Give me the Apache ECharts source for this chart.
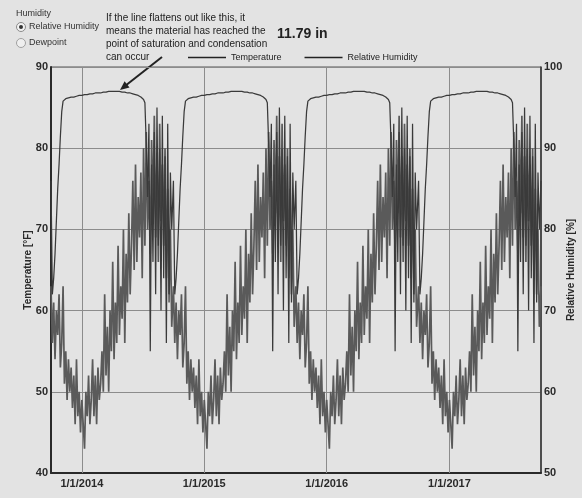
<!DOCTYPE html>
<html>
<head>
<meta charset="utf-8">
<script src="https://cdn.jsdelivr.net/npm/echarts@6/dist/echarts.min.js"></script>
<style>
  html, body { margin: 0; padding: 0; background: #e3e3e3; }
  #chart { width: 582px; height: 498px; }
</style>
</head>
<body>
<div id="chart"></div>
<script>
// Monitor position results, WUFI run of 4 years starting 1 Oct 2013.
// The climate file repeats every year, so one annual cycle of values
// (4-day steps, Oct 1 -> Sep 26) is laid out over each simulated year.

const startYear = 2013;
const simYears = 4;
const stepDays = 4;

// Temperature [°F], one value every 4 days from Oct 1
const tempYear = [
  63, 56, 61, 54, 60, 57, 62, 53,        // Oct
  56, 63, 51, 55, 49, 54, 50, 53,        // Nov
  48, 52, 46, 54, 47, 50, 45,            // Dec
  49, 46, 43, 50, 47, 52, 46, 49,        // Jan
  54, 47, 52, 46, 53, 49, 51,            // Feb
  55, 50, 62, 52, 58, 50, 60, 55,        // Mar
  66, 54, 61, 56, 68, 57, 63,            // Apr
  59, 70, 56, 67, 61, 72, 62, 68,        // May
  76, 65, 78, 66, 74, 69, 77, 64,        // Jun
  80, 68, 82, 70, 76, 67, 81,            // Jul
  72, 84, 69, 79, 66, 83, 71, 78,        // Aug
  68, 80, 64, 75, 62, 70, 58             // Sep
];

// Relative humidity [%], one value every 4 days from Oct 1
const rhYear = [
  86, 72, 74, 77, 81, 85, 88, 91.5,                    // Oct
  94.5, 95.8, 95.6, 96.1, 96.1, 96.2, 96.2, 96.3,      // Nov
  96.3, 96.3, 96.4, 96.4, 96.4, 96.5, 96.5,            // Dec
  96.5, 96.5, 96.6, 96.6, 96.6, 96.6, 96.7, 96.7,      // Jan
  96.7, 96.7, 96.8, 96.8, 96.8, 96.8, 96.8,            // Feb
  96.9, 96.9, 96.9, 96.9, 96.9, 97.0, 97.0, 97.0,      // Mar
  97.0, 97.0, 97.0, 97.0, 97.0, 97.0, 97.0,            // Apr
  96.9, 96.9, 96.9, 96.9, 96.8, 96.8, 96.8, 96.7,      // May
  96.7, 96.6, 96.6, 96.5, 96.5, 96.4, 96.3, 96.2,      // Jun
  96.0, 95.6, 90.5, 84, 93, 65, 88,                    // Jul
  76, 92, 72, 95, 78, 90, 70, 94,                      // Aug
  74, 89, 66, 93, 71, 87, 80                           // Sep
];

// x-axis labels: New Year of each simulated year
const yearTickDates = [[2014, 0, 1], [2015, 0, 1], [2016, 0, 1], [2017, 0, 1]];

const DAY = 86400000;
const xMin = Date.UTC(startYear, 9, 1);
const xMax = Date.UTC(startYear + simYears, 9, 1);
const yearTicks = yearTickDates.map(d => Date.UTC(d[0], d[1], d[2]));

const tempData = [];
const rhData = [];
for (let k = 0; k < simYears; k++) {
  const base = Date.UTC(startYear + k, 9, 1);
  for (let i = 0; i < tempYear.length; i++) {
    const t = base + i * stepDays * DAY;
    tempData.push([t, tempYear[i]]);
    rhData.push([t, rhYear[i]]);
  }
}
// the cycle closes on Oct 1 of the final year
tempData.push([xMax, tempYear[0]]);
rhData.push([xMax, rhYear[0]]);

const FONT = '"Liberation Sans", Arial, sans-serif';
const fmtDate = v => {
  const d = new Date(v);
  return (d.getUTCMonth() + 1) + '/' + d.getUTCDate() + '/' + d.getUTCFullYear();
};

const chart = echarts.init(document.getElementById('chart'), null, { renderer: 'canvas' });

chart.setOption({
  animation: false,
  backgroundColor: '#e3e3e3',
  textStyle: { fontFamily: FONT },
  grid: {
    left: 51, right: 41, top: 67, bottom: 25,
    containLabel: false,
    outerBoundsMode: 'none',
    show: true, borderColor: '#555', borderWidth: 1, backgroundColor: 'transparent'
  },
  legend: {
    left: 188, top: 53, padding: 0,
    itemWidth: 38, itemHeight: 1.5, itemGap: 23,
    icon: 'rect',
    textStyle: { fontSize: 9, color: '#222', fontFamily: FONT },
    data: [
      { name: 'Temperature', itemStyle: { color: '#222' } },
      { name: 'Relative Humidity', itemStyle: { color: '#222' } }
    ]
  },
  xAxis: {
    type: 'value',
    min: xMin,
    max: xMax,
    axisLine: { lineStyle: { color: '#2a2a2a', width: 2 } },
    axisTick: { show: false },
    splitLine: { show: false },
    axisLabel: {
      customValues: yearTicks,
      formatter: fmtDate,
      fontSize: 11, fontWeight: 'bold', color: '#2a2a2a', margin: 5, fontFamily: FONT
    }
  },
  yAxis: [
    {
      type: 'value', position: 'left',
      min: 40, max: 90, interval: 10,
      name: 'Temperature [°F]',
      nameLocation: 'middle', nameGap: 18, nameMoveOverlap: false,
      nameTextStyle: { fontSize: 10, fontWeight: 'bold', color: '#2a2a2a', fontFamily: FONT },
      axisLine: { show: true, lineStyle: { color: '#2a2a2a', width: 2 } },
      axisTick: { show: false },
      axisLabel: { fontSize: 11, fontWeight: 'bold', color: '#2a2a2a', margin: 3, fontFamily: FONT },
      splitLine: { lineStyle: { color: '#8c8c8c', width: 1 } }
    },
    {
      type: 'value', position: 'right',
      min: 50, max: 100, interval: 10,
      name: 'Relative Humidity [%]',
      nameLocation: 'middle', nameGap: 25, nameMoveOverlap: false,
      nameTextStyle: { fontSize: 10, fontWeight: 'bold', color: '#2a2a2a', fontFamily: FONT },
      axisLine: { show: true, lineStyle: { color: '#333', width: 1.5 } },
      axisTick: { show: false },
      axisLabel: { fontSize: 11, fontWeight: 'bold', color: '#2a2a2a', margin: 3, fontFamily: FONT },
      splitLine: { show: false }
    }
  ],
  series: [
    {
      name: 'Temperature',
      type: 'line',
      yAxisIndex: 0,
      data: tempData,
      showSymbol: false,
      symbol: 'none',
      sampling: false,
      lineStyle: { color: '#5a5a5a', width: 1.7 },
      itemStyle: { color: '#5a5a5a' },
      z: 3,
      markLine: {
        silent: true,
        symbol: 'none',
        z: 1,
        label: { show: false },
        emphasis: { disabled: true },
        lineStyle: { color: '#8c8c8c', width: 1, type: 'solid' },
        data: yearTicks.map(t => ({ xAxis: t }))
      }
    },
    {
      name: 'Relative Humidity',
      type: 'line',
      yAxisIndex: 1,
      data: rhData,
      showSymbol: false,
      symbol: 'none',
      sampling: false,
      lineStyle: { color: '#3a3a3a', width: 1.25 },
      itemStyle: { color: '#3a3a3a' },
      z: 4
    }
  ],
  graphic: [
    // humidity display selector
    { type: 'text', x: 16, y: 14, style: { text: 'Humidity', font: '9px ' + FONT, fill: '#333', verticalAlign: 'middle' } },
    { type: 'circle', shape: { cx: 21, cy: 27, r: 4.5 }, style: { fill: '#f2f2f2', stroke: '#8a8a8a', lineWidth: 1 } },
    { type: 'circle', shape: { cx: 21, cy: 27, r: 2 }, style: { fill: '#333' } },
    { type: 'text', x: 29, y: 27, style: { text: 'Relative Humidity', font: '9px ' + FONT, fill: '#333', verticalAlign: 'middle' } },
    { type: 'circle', shape: { cx: 21, cy: 43, r: 4.5 }, style: { fill: '#efefef', stroke: '#a0a0a0', lineWidth: 1 } },
    { type: 'text', x: 29, y: 43, style: { text: 'Dewpoint', font: '9px ' + FONT, fill: '#333', verticalAlign: 'middle' } },
    // note on the saturation plateau
    { type: 'text', x: 106, y: 18, style: { text: 'If the line flattens out like this, it', font: '10px ' + FONT, fill: '#222', verticalAlign: 'middle' } },
    { type: 'text', x: 106, y: 31, style: { text: 'means the material has reached the', font: '10px ' + FONT, fill: '#222', verticalAlign: 'middle' } },
    { type: 'text', x: 106, y: 44, style: { text: 'point of saturation and condensation', font: '10px ' + FONT, fill: '#222', verticalAlign: 'middle' } },
    { type: 'text', x: 106, y: 57, style: { text: 'can occur', font: '10px ' + FONT, fill: '#222', verticalAlign: 'middle' } },
    { type: 'line', shape: { x1: 162, y1: 57, x2: 125, y2: 86 }, style: { stroke: '#222', lineWidth: 2 } },
    { type: 'polygon', shape: { points: [[120, 90], [129.5, 87.6], [124.6, 81.3]] }, style: { fill: '#222' } },
    // monitor position depth
    { type: 'text', x: 277, y: 34, style: { text: '11.79 in', font: 'bold 14px ' + FONT, fill: '#222', verticalAlign: 'middle' } }
  ]
});
</script>
</body>
</html>
